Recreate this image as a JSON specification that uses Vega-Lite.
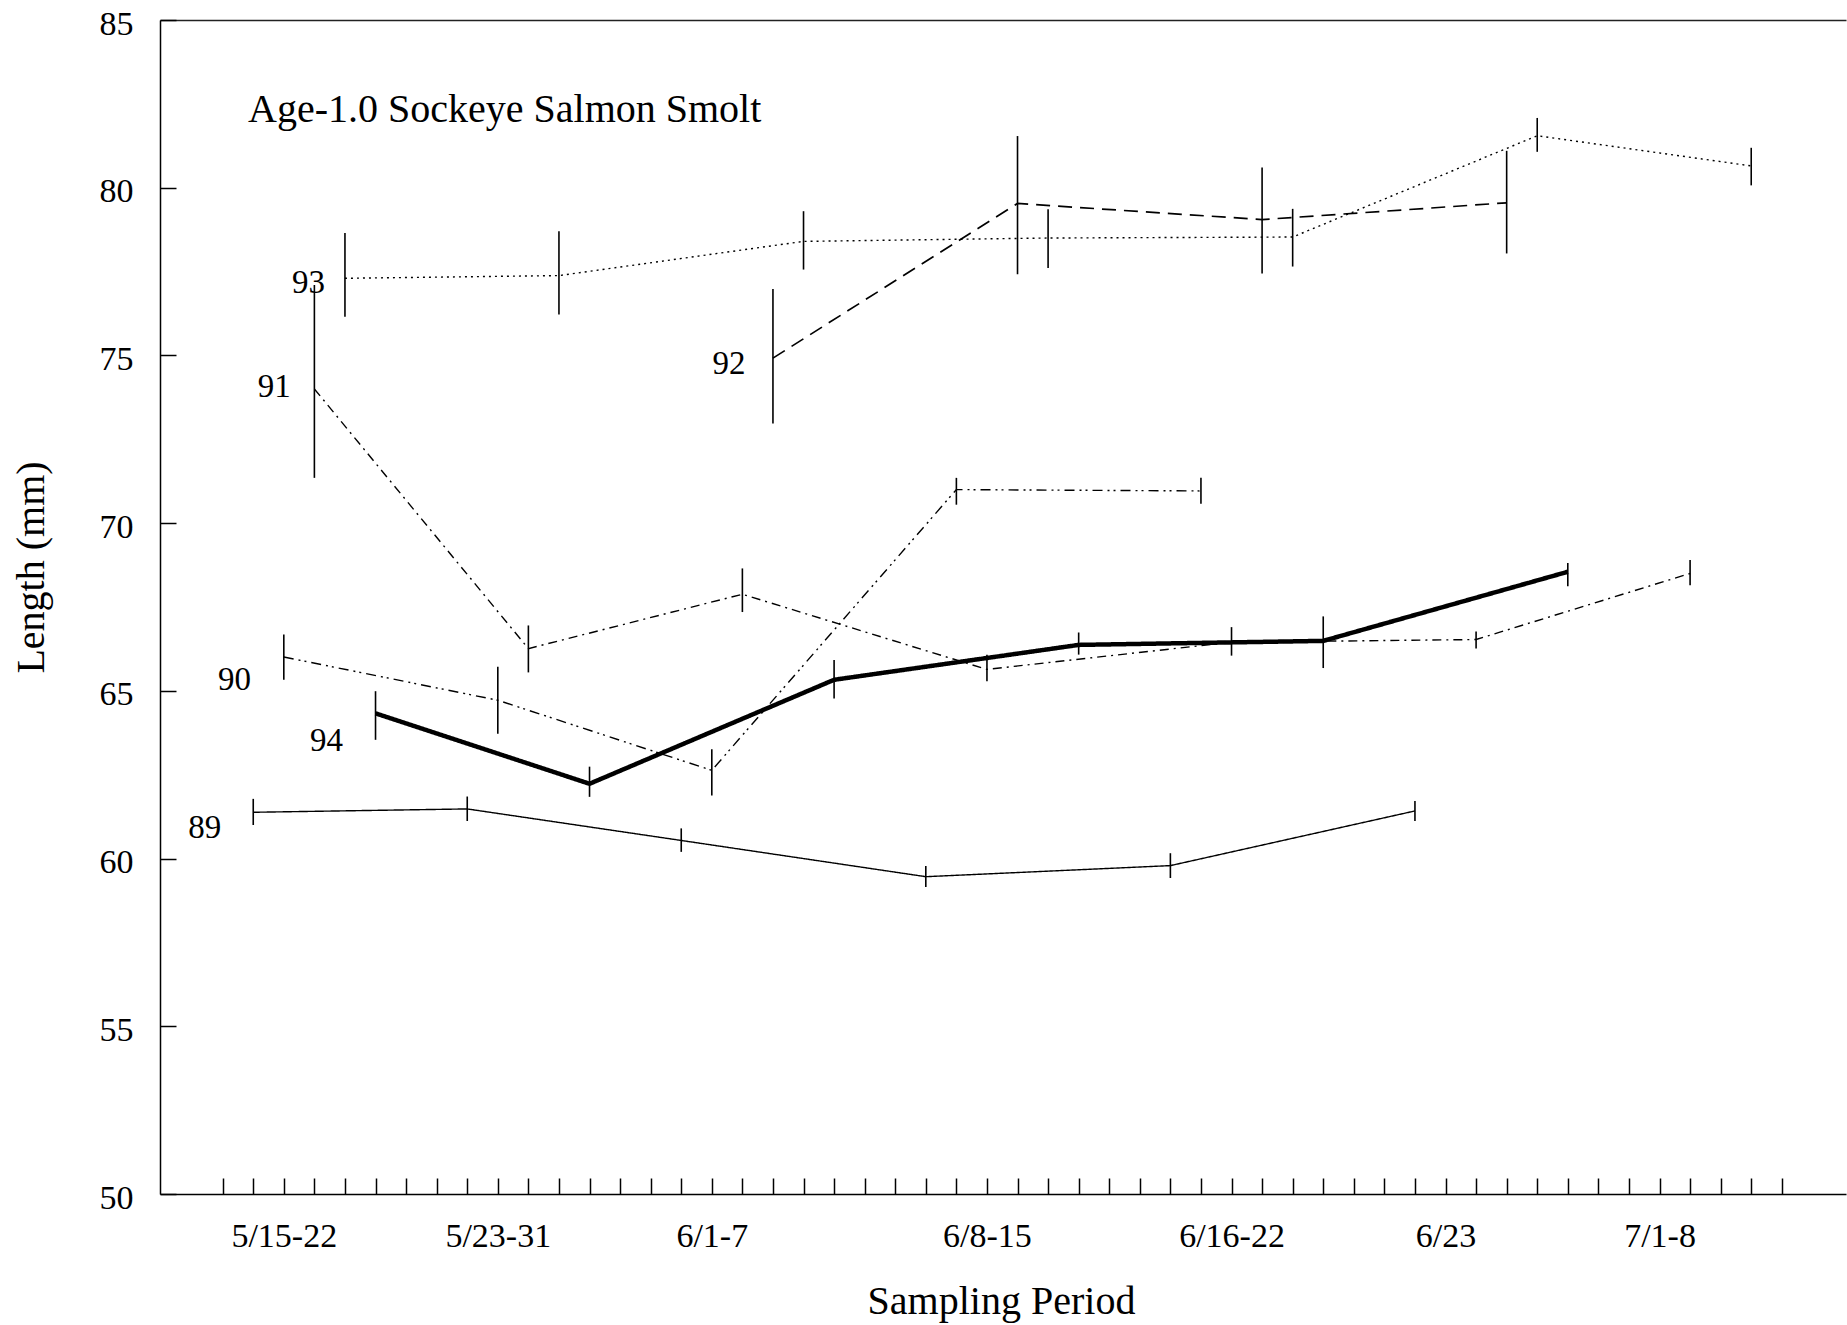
{
  "$schema": "https://vega.github.io/schema/vega-lite/v6.json",
  "width": 1686,
  "height": 1174,
  "autosize": {"type": "none"},
  "padding": {"left": 160, "top": 20, "right": 1, "bottom": 131},
  "background": "white",
  "config": {"view": {"stroke": null}, "font": "Liberation Serif", "axis": {"grid": false}},
  "datasets": {
    "points": [
      {"year": "89", "slot": 1, "len": 61.38, "lo": 61.0, "hi": 61.78},
      {"year": "89", "slot": 8, "len": 61.48, "lo": 61.12, "hi": 61.85},
      {"year": "89", "slot": 15, "len": 60.54, "lo": 60.2, "hi": 60.9},
      {"year": "89", "slot": 23, "len": 59.46, "lo": 59.15, "hi": 59.78},
      {"year": "89", "slot": 31, "len": 59.79, "lo": 59.42, "hi": 60.16},
      {"year": "89", "slot": 39, "len": 61.42, "lo": 61.12, "hi": 61.72},
      {"year": "90", "slot": 2, "len": 66.01, "lo": 65.33, "hi": 66.68},
      {"year": "90", "slot": 9, "len": 64.72, "lo": 63.72, "hi": 65.72},
      {"year": "90", "slot": 16, "len": 62.63, "lo": 61.88, "hi": 63.26},
      {"year": "90", "slot": 24, "len": 71.0, "lo": 70.55, "hi": 71.35},
      {"year": "90", "slot": 32, "len": 70.96, "lo": 70.58, "hi": 71.35},
      {"year": "91", "slot": 3, "len": 74.0, "lo": 71.35, "hi": 77.1},
      {"year": "91", "slot": 10, "len": 66.26, "lo": 65.55, "hi": 66.95},
      {"year": "91", "slot": 17, "len": 67.88, "lo": 67.35, "hi": 68.65},
      {"year": "91", "slot": 25, "len": 65.64, "lo": 65.29, "hi": 66.08},
      {"year": "91", "slot": 33, "len": 66.45, "lo": 66.05, "hi": 66.9},
      {"year": "91", "slot": 41, "len": 66.53, "lo": 66.26, "hi": 66.77},
      {"year": "91", "slot": 48, "len": 68.5, "lo": 68.15, "hi": 68.9},
      {"year": "92", "slot": 18, "len": 74.92, "lo": 72.97, "hi": 76.98},
      {"year": "92", "slot": 26, "len": 79.53, "lo": 77.42, "hi": 81.54},
      {"year": "92", "slot": 34, "len": 79.05, "lo": 77.44, "hi": 80.6},
      {"year": "92", "slot": 42, "len": 79.55, "lo": 78.04, "hi": 81.1},
      {"year": "93", "slot": 4, "len": 77.3, "lo": 76.15, "hi": 78.65},
      {"year": "93", "slot": 11, "len": 77.38, "lo": 76.22, "hi": 78.7},
      {"year": "93", "slot": 19, "len": 78.4, "lo": 77.56, "hi": 79.3},
      {"year": "93", "slot": 27, "len": 78.5, "lo": 77.61, "hi": 79.36},
      {"year": "93", "slot": 35, "len": 78.53, "lo": 77.65, "hi": 79.37},
      {"year": "93", "slot": 43, "len": 81.55, "lo": 81.07, "hi": 82.08},
      {"year": "93", "slot": 50, "len": 80.65, "lo": 80.07, "hi": 81.19},
      {"year": "94", "slot": 5, "len": 64.33, "lo": 63.54, "hi": 64.99},
      {"year": "94", "slot": 12, "len": 62.23, "lo": 61.84, "hi": 62.74},
      {"year": "94", "slot": 20, "len": 65.33, "lo": 64.77, "hi": 65.92},
      {"year": "94", "slot": 28, "len": 66.37, "lo": 66.08, "hi": 66.74},
      {"year": "94", "slot": 36, "len": 66.49, "lo": 65.68, "hi": 67.22},
      {"year": "94", "slot": 44, "len": 68.55, "lo": 68.12, "hi": 68.81}
    ],
    "labels": [
      {"label": "93", "slot": 2.81, "len": 77.17},
      {"label": "91", "slot": 1.69, "len": 74.05},
      {"label": "92", "slot": 16.56, "len": 74.75},
      {"label": "90", "slot": 0.39, "len": 65.33},
      {"label": "94", "slot": 3.4, "len": 63.51},
      {"label": "89", "slot": -0.59, "len": 60.9}
    ],
    "heading": [
      {"text": "Age-1.0 Sockeye Salmon Smolt", "slot": 0.83, "len": 81.96}
    ]
  },
  "layer": [
    {
      "data": {"name": "points"},
      "mark": {"type": "rule", "color": "black", "strokeWidth": 1.6},
      "encoding": {
        "x": {
          "field": "slot", "type": "quantitative",
          "scale": {"domain": [-2.05, 53.1], "nice": false, "zero": false},
          "axis": {
            "orient": "bottom",
            "values": [0,1,2,3,4,5,6,7,8,9,10,11,12,13,14,15,16,17,18,19,20,21,22,23,24,25,26,27,28,29,30,31,32,33,34,35,36,37,38,39,40,41,42,43,44,45,46,47,48,49,50,51],
            "labelExpr": "datum.value == 2 ? '5/15-22' : datum.value == 9 ? '5/23-31' : datum.value == 16 ? '6/1-7' : datum.value == 25 ? '6/8-15' : datum.value == 33 ? '6/16-22' : datum.value == 40 ? '6/23' : datum.value == 47 ? '7/1-8' : ''",
            "tickSize": -16, "tickWidth": 1.5, "tickColor": "black",
            "domainColor": "black", "domainWidth": 1.5,
            "labelFont": "Liberation Serif", "labelFontSize": 34, "labelColor": "black",
            "labelPadding": 41, "labelOverlap": false, "labelFlush": false, "labelBound": false,
            "title": "Sampling Period", "titleFont": "Liberation Serif", "titleFontSize": 40,
            "titleFontWeight": "normal", "titleColor": "black",
            "titleX": 841, "titleY": 119, "titleAlign": "center", "titleBaseline": "alphabetic"
          }
        },
        "y": {
          "field": "lo", "type": "quantitative",
          "scale": {"domain": [50, 85], "nice": false, "zero": false},
          "axis": {
            "values": [50, 55, 60, 65, 70, 75, 80, 85],
            "tickSize": -16, "tickWidth": 1.5, "tickColor": "black",
            "domainColor": "black", "domainWidth": 1.5,
            "labelFont": "Liberation Serif", "labelFontSize": 34, "labelColor": "black",
            "labelPadding": 43, "labelOffset": 4, "labelOverlap": false, "labelFlush": false, "labelBound": false,
            "title": "Length (mm)", "titleFont": "Liberation Serif", "titleFontSize": 40,
            "titleFontWeight": "normal", "titleColor": "black", "titleAngle": -90,
            "titleX": -117, "titleY": 547, "titleAlign": "center", "titleBaseline": "alphabetic"
          }
        },
        "y2": {"field": "hi"}
      }
    },
    {
      "data": {"name": "points"},
      "mark": {"type": "line", "color": "black"},
      "encoding": {
        "x": {"field": "slot", "type": "quantitative", "axis": null},
        "y": {"field": "len", "type": "quantitative", "axis": null},
        "detail": {"field": "year", "type": "nominal"},
        "strokeDash": {
          "field": "year", "type": "nominal", "legend": null,
          "scale": {"domain": ["89", "90", "91", "92", "93", "94"], "range": [[1, 0], [10, 5, 2, 4, 2, 5], [9, 5, 2, 5], [14, 8], [2, 4], [1, 0]]}
        },
        "strokeWidth": {
          "condition": [
            {"test": "datum.year == '94'", "value": 4.5},
            {"test": "datum.year == '92'", "value": 1.7}
          ],
          "value": 1.4
        }
      }
    },
    {
      "data": {"name": "labels"},
      "mark": {"type": "text", "font": "Liberation Serif", "fontSize": 33, "align": "center", "baseline": "middle", "color": "black"},
      "encoding": {
        "x": {"field": "slot", "type": "quantitative",
              "axis": {"orient": "top", "domain": true, "ticks": false, "labels": false, "title": null, "domainColor": "#222", "domainWidth": 1.5}},
        "y": {"field": "len", "type": "quantitative", "axis": null},
        "text": {"field": "label"}
      }
    },
    {
      "data": {"name": "heading"},
      "mark": {"type": "text", "font": "Liberation Serif", "fontSize": 40, "align": "left", "baseline": "alphabetic", "color": "black"},
      "encoding": {
        "x": {"field": "slot", "type": "quantitative", "axis": null},
        "y": {"field": "len", "type": "quantitative", "axis": null},
        "text": {"field": "text"}
      }
    }
  ],
  "resolve": {"axis": {"x": "independent", "y": "independent"}}
}
